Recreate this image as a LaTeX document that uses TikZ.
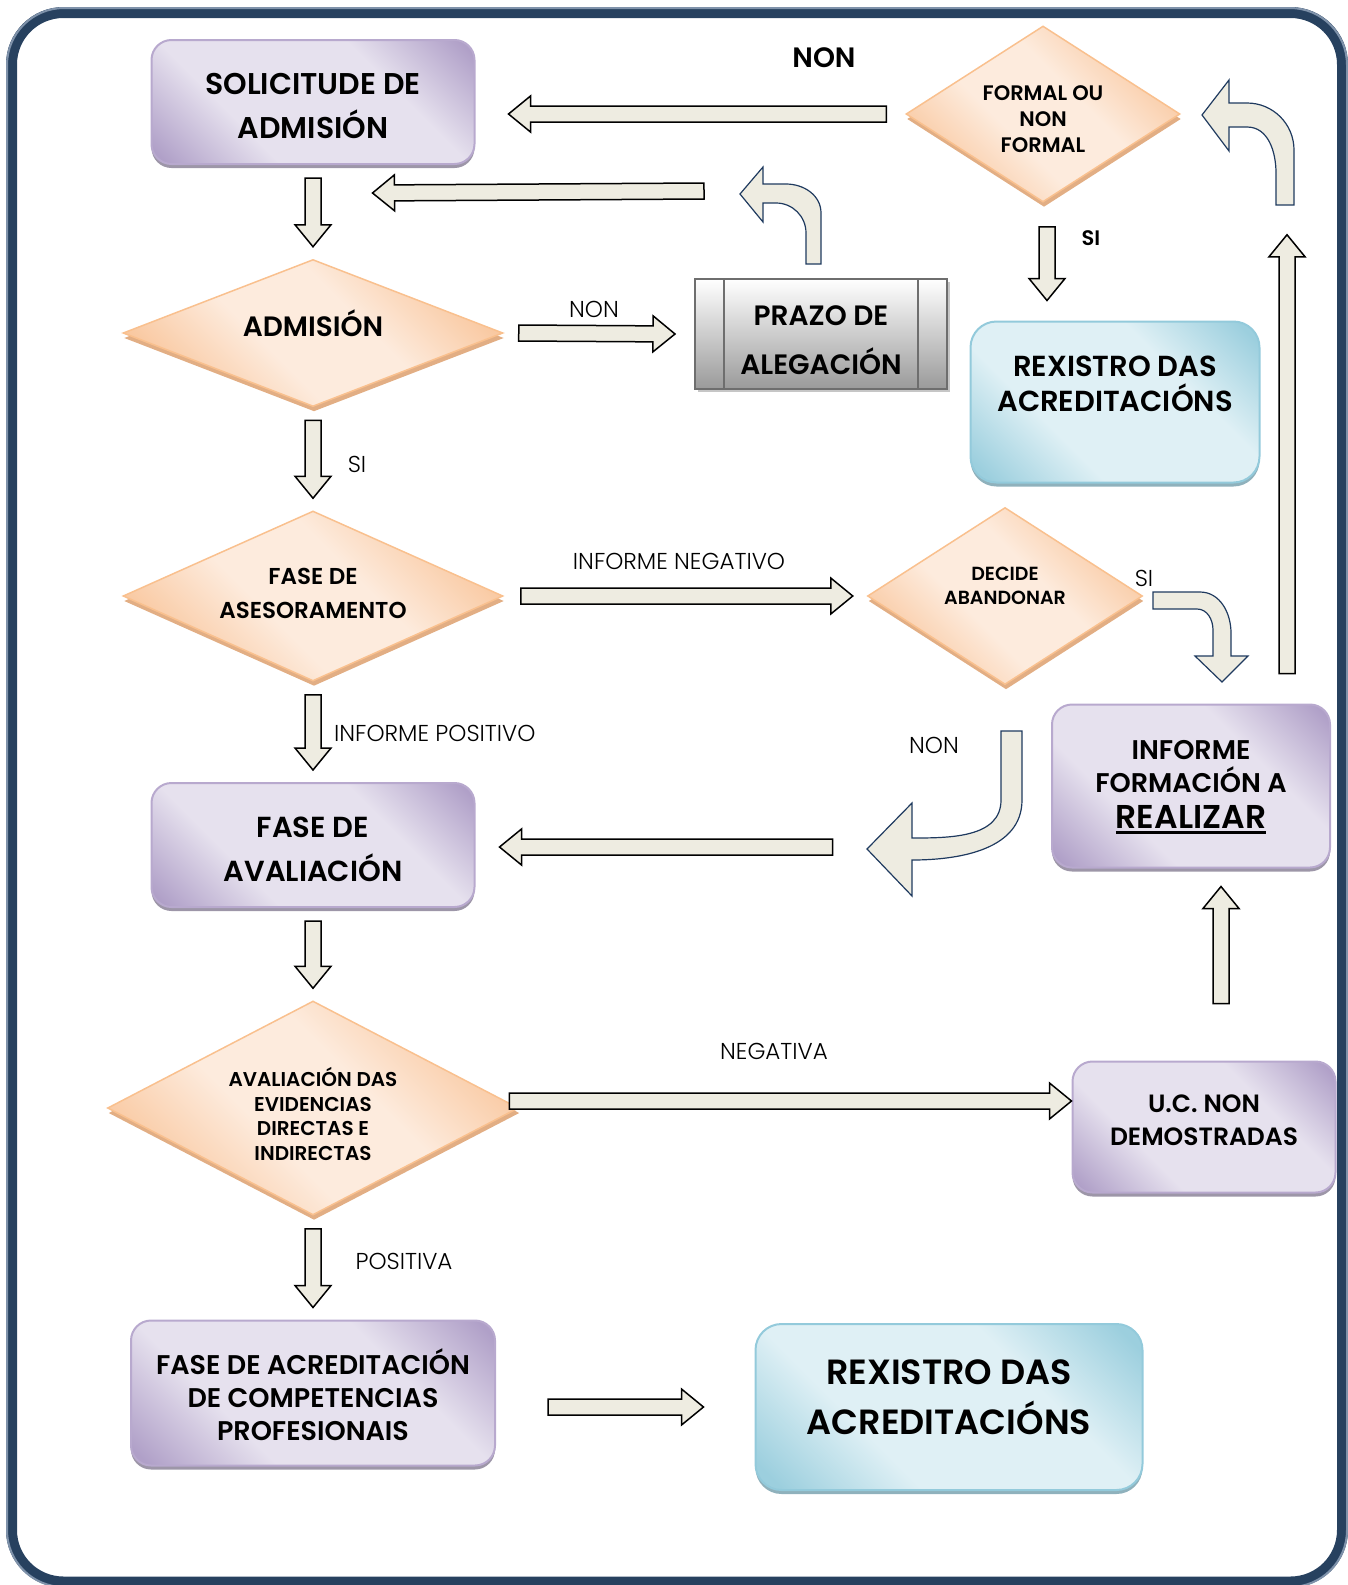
\documentclass[tikz,border=0pt]{standalone}
\usepackage{fontspec}
\setmainfont{Poppins}[BoldFont={Poppins SemiBold}]
\newfontfamily\lightfont{Poppins Light}
\usetikzlibrary{shapes.geometric,calc,shadows}

\definecolor{framenavy}{HTML}{27415F}
\definecolor{frameedge}{HTML}{7F92AA}
\definecolor{purplight}{HTML}{E6E1EE}
\definecolor{purpdark}{HTML}{B0A0C8}
\definecolor{purpline}{HTML}{B8A9CE}
\definecolor{purpshadow}{HTML}{9D96A8}
\definecolor{orlight}{HTML}{FDEBDD}
\definecolor{ordark}{HTML}{F9C8A0}
\definecolor{orline}{HTML}{F9C08E}
\definecolor{orshadow}{HTML}{E2AE84}
\definecolor{bluelight}{HTML}{DFF0F5}
\definecolor{bluedark}{HTML}{9CCFDE}
\definecolor{blueline}{HTML}{93CADB}
\definecolor{blueshadow}{HTML}{8FB1BC}
\definecolor{prazodark}{HTML}{9A9A9A}
\definecolor{prazoline}{HTML}{6E6E6E}
\definecolor{arrowfill}{HTML}{EEECE1}
\definecolor{arrownavy}{HTML}{1F3A5F}

\pgfdeclarehorizontalshading{purpshade}{100bp}{color(0bp)=(purpdark); color(17bp)=(purpdark); color(35bp)=(purplight); color(65bp)=(purplight); color(83bp)=(purpdark); color(100bp)=(purpdark)}
\pgfdeclarehorizontalshading{orshade}{100bp}{color(0bp)=(ordark); color(25bp)=(ordark); color(42bp)=(orlight); color(58bp)=(orlight); color(75bp)=(ordark); color(100bp)=(ordark)}
\pgfdeclarehorizontalshading{blueshade}{100bp}{color(0bp)=(bluedark); color(18bp)=(bluedark); color(36bp)=(bluelight); color(64bp)=(bluelight); color(82bp)=(bluedark); color(100bp)=(bluedark)}

\newcommand\fsz[2]{\fontsize{#1}{#2}\selectfont}
\newcommand\ulthick[1]{\setbox0\hbox{#1}\leavevmode\rlap{\rule[-6pt]{\wd0}{3pt}}\box0}

% block arrow from #1 to #2 (tip at #2)
\newcommand\blockarrow[2]{%
  \draw[blockarr] let \p1=(#1), \p2=(#2),
      \n1={atan2(\y2-\y1,\x2-\x1)}, \n2={veclen(\x2-\x1,\y2-\y1)-22pt} in
    ($(\p1)+(\n1+90:8pt)$) -- ($(\p1)+(\n1:\n2)+(\n1+90:8pt)$)
    -- ($(\p1)+(\n1:\n2)+(\n1+90:18pt)$) -- (\p2)
    -- ($(\p1)+(\n1:\n2)+(\n1-90:18pt)$) -- ($(\p1)+(\n1:\n2)+(\n1-90:8pt)$)
    -- ($(\p1)+(\n1-90:8pt)$) -- cycle;}

\tikzset{
  boxbase/.style={rectangle, line width=2pt, shade, shading angle=45, inner sep=0pt},
  purpbox/.style={boxbase, rounded corners=20pt, draw=purpline, shading=purpshade,
    drop shadow={shadow xshift=0pt,shadow yshift=-4pt,fill=purpshadow,opacity=1}},
  bluebox/.style={boxbase, rounded corners=26pt, draw=blueline, shading=blueshade,
    drop shadow={shadow xshift=0pt,shadow yshift=-4pt,fill=blueshadow,opacity=1}},
  decision/.style={diamond, inner sep=0pt, draw=orline, line width=1.5pt, shade,
    shading=orshade, shading angle=45,
    drop shadow={shadow xshift=1pt,shadow yshift=-5pt,fill=orshadow,opacity=1}},
  prazobox/.style={rectangle, draw=prazoline, line width=2pt, top color=white,
    bottom color=prazodark, inner sep=0pt,
    drop shadow={shadow xshift=3pt,shadow yshift=-3pt,fill=gray!45,opacity=1}},
  boxtxt/.style={align=center, inner sep=0pt, font=\bfseries},
  blockarr/.style={draw=black, line width=1.5pt, fill=arrowfill, line join=miter},
  bentarr/.style={draw=arrownavy, line width=1.2pt, fill=arrowfill},
  lbl/.style={inner sep=0pt, font=\lightfont\fsz{23}{23}}
}

\begin{document}
\begin{tikzpicture}[x=1pt,y=-1pt]
  \useasboundingbox (0,0) rectangle (1348,1585);

  % frame
  \draw[line width=11pt, framenavy, rounded corners=52pt] (11.5,12.5) rectangle (1342.5,1582);
  \draw[line width=2pt, frameedge, rounded corners=57pt] (7,8) rectangle (1347,1587);

  % left column
  \node[purpbox, minimum width=323pt, minimum height=124pt] (sol) at (313,102) {};
  \node[decision, shape aspect=2.58, minimum width=380pt, minimum height=147pt] (adm) at (313,333) {};
  \node[decision, shape aspect=2.24, minimum width=380pt, minimum height=170pt] (ases) at (313,596) {};
  \node[purpbox, minimum width=323pt, minimum height=124pt] (aval) at (313,845) {};
  \node[decision, shape aspect=1.92, minimum width=411pt, minimum height=214pt] (evid) at (313,1108) {};
  \node[purpbox, minimum width=364pt, minimum height=145pt] (acred) at (313,1393) {};

  % middle and right
  \node[prazobox, minimum width=252pt, minimum height=110pt] (prazo) at (821,334) {};
  \draw[prazoline, line width=2pt] ($(prazo.north west)+(30,0)$) -- ($(prazo.south west)+(30,0)$)
    ($(prazo.north east)+(-30,0)$) -- ($(prazo.south east)+(-30,0)$);
  \node[decision, shape aspect=1.56, minimum width=274pt, minimum height=176pt] (formal) at (1043,114) {};
  \node[bluebox, minimum width=289pt, minimum height=161pt] (rexA) at (1115,402) {};
  \node[decision, shape aspect=1.55, minimum width=275pt, minimum height=177pt] (decide) at (1005,596) {};
  \node[purpbox, minimum width=278pt, minimum height=163pt] (informe) at (1191,786) {};
  \node[purpbox, minimum width=263pt, minimum height=131pt] (ucnon) at (1204,1127) {};
  \node[bluebox, minimum width=387pt, minimum height=166pt] (rexB) at (949,1407) {};

  % texts in the shapes
  \node[boxtxt, font=\bfseries\fsz{30}{44}] (solt) at (313,106) {SOLICITUDE DE\\ADMISIÓN};
  \node[boxtxt, font=\bfseries\fsz{28}{28}] (admt) at (313,323) {ADMISIÓN};
  \node[boxtxt, font=\bfseries\fsz{23}{34}] (asest) at (313,593) {FASE DE\\ASESORAMENTO};
  \node[boxtxt, font=\bfseries\fsz{29}{44}] (avalt) at (313,849) {FASE DE\\AVALIACIÓN};
  \node[boxtxt, font=\bfseries\fsz{20}{24.5}] (evidt) at (313,1114) {AVALIACIÓN DAS\\EVIDENCIAS\\DIRECTAS E\\INDIRECTAS};
  \node[boxtxt, font=\bfseries\fsz{27}{33}] (acredt) at (313,1395) {FASE DE ACREDITACIÓN\\DE COMPETENCIAS\\PROFESIONAIS};
  \node[boxtxt, font=\bfseries\fsz{28}{49}] (prazot) at (821,340) {PRAZO DE\\ALEGACIÓN};
  \node[boxtxt, font=\bfseries\fsz{21}{26}] (formalt) at (1043,119) {FORMAL OU\\NON\\FORMAL};
  \node[boxtxt, font=\bfseries\fsz{29}{35}] (rexAt) at (1115,384) {REXISTRO DAS\\ACREDITACIÓNS};
  \node[boxtxt, font=\bfseries\fsz{19}{24}] (decidet) at (1005,586) {DECIDE\\ABANDONAR};
  \node[boxtxt, font=\bfseries\fsz{27}{33}] (informet) at (1191,787)
    {INFORME\\FORMACIÓN A\\[3pt]{\fsz{33}{38}\ulthick{REALIZAR}}};
  \node[boxtxt, font=\bfseries\fsz{25}{33}] (ucnont) at (1204,1120) {U.C. NON\\DEMOSTRADAS};
  \node[boxtxt, font=\bfseries\fsz{35}{50}] (rexBt) at (949,1397) {REXISTRO DAS\\ACREDITACIÓNS};

  % labels
  \node[lbl, font=\bfseries\fsz{28}{28}] (lnonA) at (824,58) {NON};
  \node[lbl] (lnonB) at (594,309) {NON};
  \node[lbl, font=\bfseries\fsz{21}{21}] (lsiA) at (1091,238) {SI};
  \node[lbl] (lsiB) at (357,464) {SI};
  \node[lbl] (lneg) at (679,561) {INFORME NEGATIVO};
  \node[lbl] (lsiC) at (1144,578) {SI};
  \node[lbl] (lnonC) at (934,745) {NON};
  \node[lbl, anchor=west] (lpos) at (334,733) {INFORME POSITIVO};
  \node[lbl] (lnega) at (774,1051) {NEGATIVA};
  \node[lbl] (lposa) at (404,1261) {POSITIVA};

  % straight arrows down the left column
  \foreach \a/\b in {sol/adm, adm/ases, ases/aval, aval/evid, evid/acred}
    {\blockarrow{$(\a.south)+(0,13)$}{$(\b.north)+(0,-12)$}}

  \blockarrow{$(adm.east)+(15,0)$}{$(prazo.west)+(-19,0)$}
  \blockarrow{$(prazo.north west)+(10,-87)$}{$(sol.south east)+(-103,28)$}
  \blockarrow{$(formal.west)+(-19,0)$}{$(sol.east |- formal.west)+(33,0)$}
  \blockarrow{$(formal.south)+(4,24)$}{$(formal.south |- rexA.north)+(4,-20)$}
  \blockarrow{$(informe.north east)+(-44,-30)$}{$(informe.north east |- formal.south)+(-44,32)$}
  \blockarrow{$(ases.east)+(17,0)$}{$(decide.west |- ases.east)+(-14,0)$}
  \blockarrow{$(aval.east)+(357,2)$}{$(aval.east)+(24,2)$}
  \blockarrow{$(evid.east)+(-10,-7)$}{$(ucnon.west |- evid.east)+(0,-7)$}
  \blockarrow{$(ucnon.north)+(17,-57)$}{$(ucnon.north |- informe.south)+(17,18)$}
  \blockarrow{$(acred.east)+(52,14)$}{$(rexB.west |- acred.east)+(-51,14)$}

  % bent arrows
  \draw[bentarr] (806,264) -- (806,233) to[out=90,in=0] (776,203) -- (763,203) -- (763,222)
    -- (740,194) -- (763,167) -- (763,184) -- (786,184) to[out=0,in=90] (821,213) -- (821,264) -- cycle;
  \draw[bentarr] (1276,205) -- (1276,173) to[out=90,in=0] (1247,127) -- (1229,127) -- (1229,151)
    -- (1202,115) -- (1229,80) -- (1229,103) -- (1247,103) to[out=0,in=90] (1294,150) -- (1294,205) -- cycle;
  \draw[bentarr] (1153,592) -- (1200,592) to[out=0,in=90] (1231,633) -- (1231,656) -- (1248,656)
    -- (1222,682) -- (1195,656) -- (1213,656) -- (1213,630) to[out=90,in=0] (1197,609) -- (1153,609) -- cycle;
  \draw[bentarr] (1001,731) -- (1022,731) -- (1022,800) to[out=-90,in=0] (912,860) -- (912,896)
    -- (867,849) -- (912,803) -- (912,838) to[out=0,in=-90] (1001,800) -- cycle;
\end{tikzpicture}
\end{document}
